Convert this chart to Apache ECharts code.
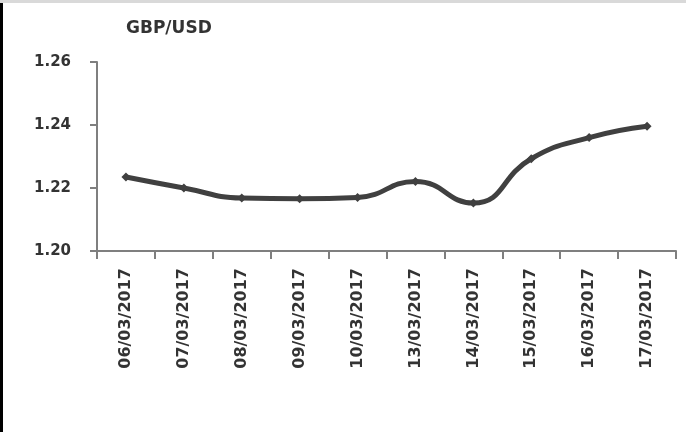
<!DOCTYPE html>
<html>
<head>
<meta charset="utf-8">
<script src="https://cdn.jsdelivr.net/npm/echarts@6/dist/echarts.min.js"></script>
<style>
html,body{margin:0;padding:0;background:#fff;}
#c{width:686px;height:432px;}
</style>
</head>
<body>
<div id="c"></div>
<script>
var title = 'GBP/USD';
var categories = ['06/03/2017','07/03/2017','08/03/2017','09/03/2017','10/03/2017','13/03/2017','14/03/2017','15/03/2017','16/03/2017','17/03/2017'];
var values = [1.2235, 1.2200, 1.2168, 1.2166, 1.2170, 1.2221, 1.2152, 1.2293, 1.2360, 1.2396];
var yTicks = [1.20, 1.22, 1.24, 1.26];

var chart = echarts.init(document.getElementById('c'), null, {renderer: 'canvas'});
var font = 'DejaVu Sans';
chart.setOption({
  animation: false,
  backgroundColor: '#ffffff',
  graphic: [
    {type: 'rect', shape: {x: 0, y: 0, width: 686, height: 3}, style: {fill: '#d9d9d9'}, silent: true},
    {type: 'rect', shape: {x: 0, y: 3, width: 3, height: 429}, style: {fill: '#000000'}, silent: true}
  ],
  title: {
    text: title,
    left: 121,
    top: 15,
    textStyle: {fontFamily: font, fontSize: 17, fontWeight: 'bold', color: '#333333'}
  },
  grid: {left: 97, right: 10, top: 62, bottom: 181, containLabel: false},
  xAxis: {
    type: 'category',
    data: categories,
    boundaryGap: true,
    axisLine: {lineStyle: {color: '#7f7f7f', width: 2}},
    axisTick: {show: true, length: 8, alignWithLabel: false, lineStyle: {color: '#7f7f7f', width: 2}},
    axisLabel: {
      rotate: 90, margin: 17, interval: 0,
      fontFamily: font, fontSize: 16, fontWeight: 'bold', color: '#333333'
    },
    splitLine: {show: false}
  },
  yAxis: {
    type: 'value',
    min: yTicks[0],
    max: yTicks[yTicks.length - 1],
    interval: 0.02,
    axisLine: {show: true, lineStyle: {color: '#7f7f7f', width: 2}},
    axisTick: {show: true, length: 7, lineStyle: {color: '#7f7f7f', width: 2}},
    axisLabel: {
      margin: 26,
      fontFamily: font, fontSize: 15, fontWeight: 'bold', color: '#333333',
      formatter: function (v) { return v.toFixed(2); }
    },
    splitLine: {show: false}
  },
  series: [{
    type: 'line',
    data: values,
    smooth: 0.5,
    symbol: 'diamond',
    symbolSize: 9,
    showAllSymbol: true,
    lineStyle: {color: '#404040', width: 5},
    itemStyle: {color: '#404040'}
  }]
});
</script>
</body>
</html>
